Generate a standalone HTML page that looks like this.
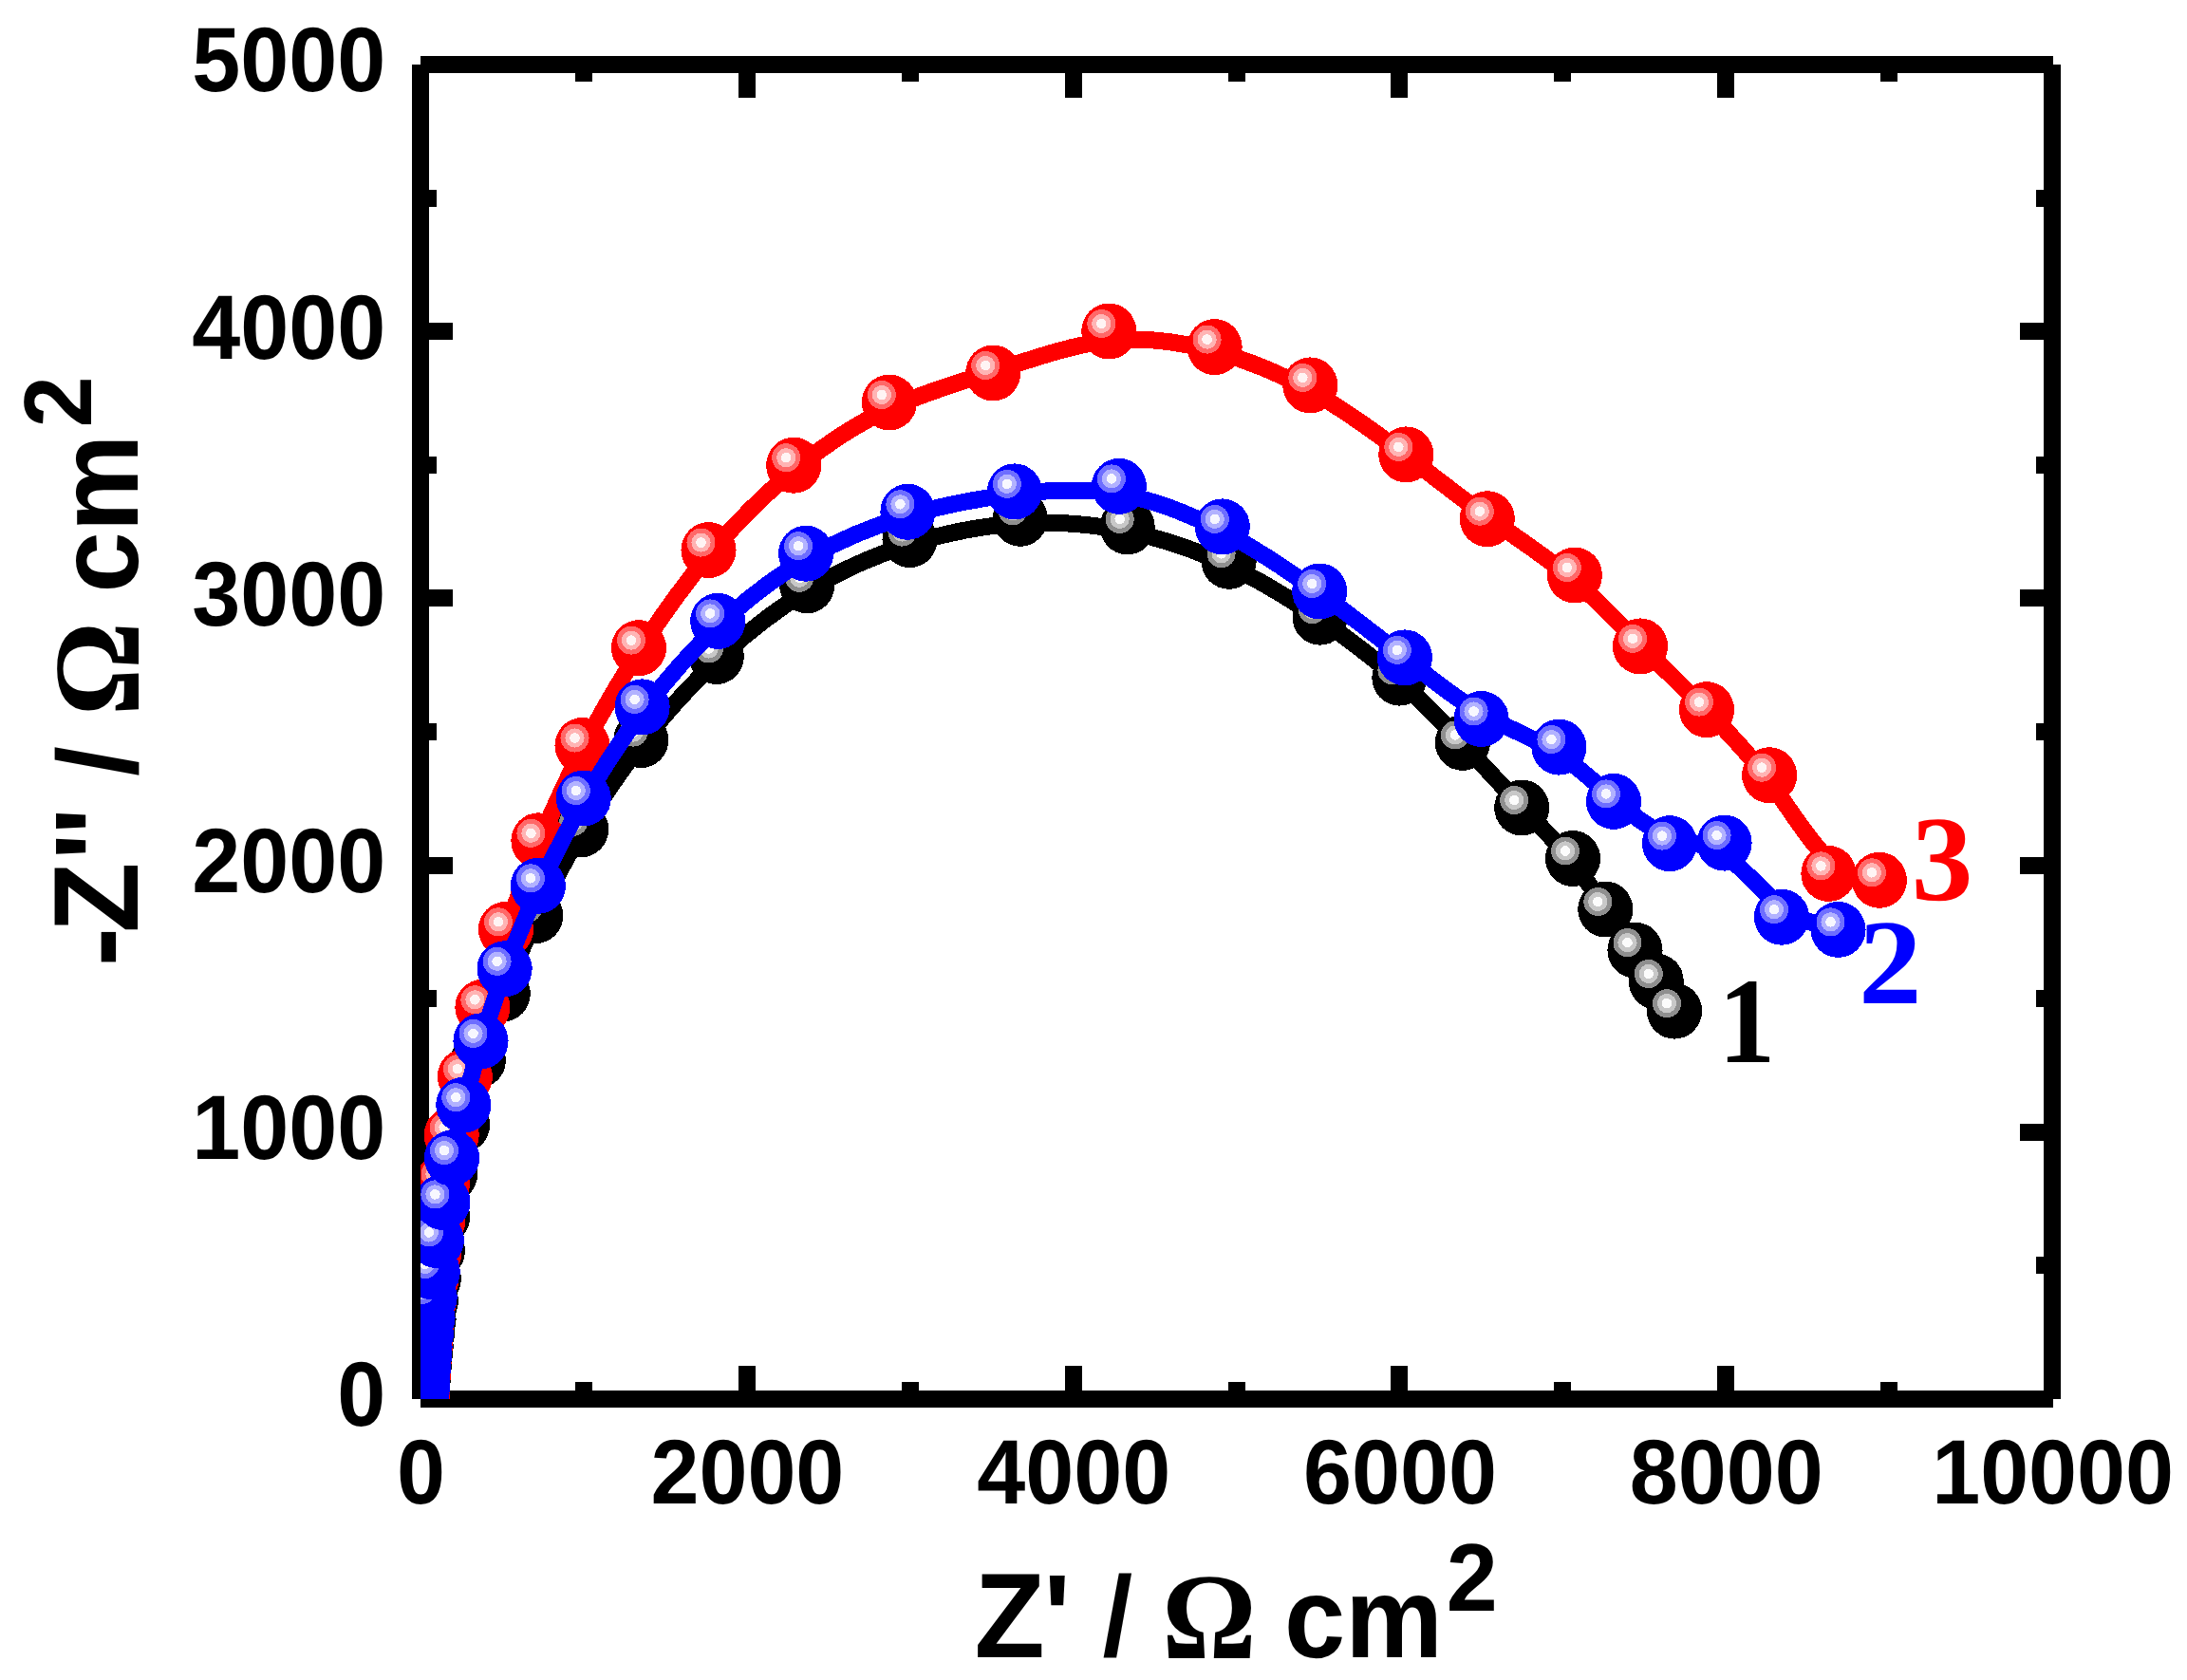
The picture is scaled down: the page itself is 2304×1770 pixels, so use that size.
<!DOCTYPE html>
<html lang="en"><head><meta charset="utf-8"><title>Nyquist plot</title>
<style>html,body{margin:0;padding:0;background:#fff;overflow:hidden;}svg{display:block;}text{font-family:"Liberation Sans",sans-serif;font-weight:bold;fill:#000;}.ser{font-family:"Liberation Serif",serif;font-weight:bold;}.om{font-family:"Liberation Serif",serif;font-weight:bold;}</style></head><body>
<svg width="2304" height="1770" viewBox="0 0 2304 1770" shape-rendering="crispEdges">
<rect width="2304" height="1770" fill="#fff"/>
<defs><clipPath id="pc"><rect x="443.0" y="68.0" width="1719.5" height="1406.0"/></clipPath></defs>
<g id="axes"><path d="M443.0 68.0H2162.5 M443.0 1474.0H2162.5 M443.0 68.0V1474.0 M2162.0 68.0V1474.0" stroke="#000" stroke-width="18" fill="none"/><path d="M614.9 68.0v18.0 M614.9 1474.0v-18.0 M786.8 68.0v35.0 M786.8 1474.0v-35.0 M958.7 68.0v18.0 M958.7 1474.0v-18.0 M1130.6 68.0v35.0 M1130.6 1474.0v-35.0 M1302.5 68.0v18.0 M1302.5 1474.0v-18.0 M1474.4 68.0v35.0 M1474.4 1474.0v-35.0 M1646.3 68.0v18.0 M1646.3 1474.0v-18.0 M1818.2 68.0v35.0 M1818.2 1474.0v-35.0 M1990.1 68.0v18.0 M1990.1 1474.0v-18.0 M443.0 1333.4h17.0 M2162.0 1333.4h-17.0 M443.0 1192.8h34.0 M2162.0 1192.8h-34.0 M443.0 1052.2h17.0 M2162.0 1052.2h-17.0 M443.0 911.6h34.0 M2162.0 911.6h-34.0 M443.0 771.0h17.0 M2162.0 771.0h-17.0 M443.0 630.4h34.0 M2162.0 630.4h-34.0 M443.0 489.8h17.0 M2162.0 489.8h-17.0 M443.0 349.2h34.0 M2162.0 349.2h-34.0 M443.0 208.6h17.0 M2162.0 208.6h-17.0" stroke="#000" stroke-width="18" fill="none"/></g>
<g id="data" clip-path="url(#pc)" shape-rendering="crispEdges">
<g id="s_k">
<path d="M444.81 1473.12 C444.81 1473.12 444.81 1473.12 444.81 1473.08 C444.81 1473.05 444.82 1472.98 444.82 1472.91 C444.82 1472.83 444.82 1472.75 444.82 1472.66 C444.83 1472.56 444.83 1472.46 444.83 1472.35 C444.83 1472.23 444.84 1472.11 444.84 1471.97 C444.84 1471.82 444.85 1471.67 444.85 1471.50 C444.86 1471.32 444.86 1471.13 444.87 1470.92 C444.88 1470.71 444.89 1470.48 444.90 1470.21 C444.90 1469.95 444.91 1469.66 444.93 1469.34 C444.94 1469.02 444.95 1468.67 444.97 1468.27 C444.98 1467.88 445.00 1467.44 445.02 1466.95 C445.05 1466.47 445.07 1465.93 445.10 1465.33 C445.13 1464.74 445.16 1464.08 445.20 1463.34 C445.24 1462.61 445.28 1461.79 445.33 1460.89 C445.38 1459.98 445.44 1458.99 445.50 1457.87 C445.57 1456.76 445.65 1455.53 445.74 1454.16 C445.83 1452.80 445.93 1451.29 446.05 1449.60 C446.17 1447.92 446.30 1446.06 446.46 1443.99 C446.62 1441.92 446.80 1439.64 447.01 1437.09 C447.22 1434.54 447.46 1431.73 447.74 1428.60 C448.02 1425.47 448.34 1422.01 448.71 1418.16 C449.08 1414.30 449.50 1410.05 450.00 1405.31 C450.49 1400.57 451.06 1395.34 451.72 1389.51 C452.38 1383.68 453.13 1377.25 454.01 1370.08 C454.88 1362.91 455.88 1355.00 457.05 1346.18 C458.22 1337.36 459.55 1327.63 461.10 1316.78 C462.65 1305.93 464.43 1293.97 466.63 1280.48 C468.83 1267.00 471.47 1252.00 474.95 1235.83 C478.43 1219.67 482.77 1202.33 487.73 1182.33 C492.70 1162.33 498.30 1139.67 505.42 1116.65 C512.53 1093.63 521.17 1070.27 531.23 1044.87 C541.30 1019.47 552.80 992.03 566.53 963.18 C580.27 934.33 596.23 904.07 614.73 873.23 C633.23 842.40 654.27 811.00 678.03 780.62 C701.80 750.23 728.30 720.87 757.45 693.73 C786.60 666.60 818.40 641.70 852.35 621.22 C886.30 600.73 922.40 584.67 959.83 572.92 C997.27 561.17 1036.03 553.73 1074.23 551.45 C1112.43 549.17 1150.07 552.03 1186.70 559.53 C1223.33 567.03 1258.97 579.17 1292.78 595.05 C1326.60 610.93 1358.60 630.57 1388.57 651.03 C1418.53 671.50 1446.47 692.80 1471.52 714.83 C1496.57 736.87 1518.73 759.63 1540.20 782.45 C1561.67 805.27 1582.43 828.13 1601.78 848.48 C1621.13 868.83 1639.07 886.67 1653.75 904.50 C1668.43 922.33 1679.87 940.17 1690.78 956.27 C1701.70 972.37 1712.10 986.73 1721.02 999.40 C1729.93 1012.07 1737.37 1023.03 1744.28 1033.70 C1751.20 1044.37 1757.60 1054.73 1760.80 1059.92 C1764.00 1065.10 1764.00 1065.10 1764.00 1065.10" stroke="#000000" stroke-width="18" fill="none" stroke-linejoin="round" stroke-linecap="round"/>
<ellipse cx="444.8" cy="1473.1" rx="29.05" ry="29.5" fill="#000000"/>
<circle cx="436.8" cy="1465.1" r="15" fill="#8f8f8f"/><circle cx="436.8" cy="1465.1" r="10.1" fill="#c8c8c8"/><circle cx="436.8" cy="1465.1" r="5.3" fill="#fcfcfc"/>
<ellipse cx="444.8" cy="1472.9" rx="29.05" ry="29.5" fill="#000000"/>
<circle cx="436.8" cy="1464.9" r="15" fill="#8f8f8f"/><circle cx="436.8" cy="1464.9" r="10.1" fill="#c8c8c8"/><circle cx="436.8" cy="1464.9" r="5.3" fill="#fcfcfc"/>
<ellipse cx="444.8" cy="1472.7" rx="29.05" ry="29.5" fill="#000000"/>
<circle cx="436.8" cy="1464.7" r="15" fill="#8f8f8f"/><circle cx="436.8" cy="1464.7" r="10.1" fill="#c8c8c8"/><circle cx="436.8" cy="1464.7" r="5.3" fill="#fcfcfc"/>
<ellipse cx="444.8" cy="1472.4" rx="29.05" ry="29.5" fill="#000000"/>
<circle cx="436.8" cy="1464.4" r="15" fill="#8f8f8f"/><circle cx="436.8" cy="1464.4" r="10.1" fill="#c8c8c8"/><circle cx="436.8" cy="1464.4" r="5.3" fill="#fcfcfc"/>
<ellipse cx="444.8" cy="1472.0" rx="29.05" ry="29.5" fill="#000000"/>
<circle cx="436.8" cy="1464.0" r="15" fill="#8f8f8f"/><circle cx="436.8" cy="1464.0" r="10.1" fill="#c8c8c8"/><circle cx="436.8" cy="1464.0" r="5.3" fill="#fcfcfc"/>
<ellipse cx="444.9" cy="1471.5" rx="29.05" ry="29.5" fill="#000000"/>
<circle cx="436.9" cy="1463.5" r="15" fill="#8f8f8f"/><circle cx="436.9" cy="1463.5" r="10.1" fill="#c8c8c8"/><circle cx="436.9" cy="1463.5" r="5.3" fill="#fcfcfc"/>
<ellipse cx="444.9" cy="1470.9" rx="29.05" ry="29.5" fill="#000000"/>
<circle cx="436.9" cy="1462.9" r="15" fill="#8f8f8f"/><circle cx="436.9" cy="1462.9" r="10.1" fill="#c8c8c8"/><circle cx="436.9" cy="1462.9" r="5.3" fill="#fcfcfc"/>
<ellipse cx="444.9" cy="1470.2" rx="29.05" ry="29.5" fill="#000000"/>
<circle cx="436.9" cy="1462.2" r="15" fill="#8f8f8f"/><circle cx="436.9" cy="1462.2" r="10.1" fill="#c8c8c8"/><circle cx="436.9" cy="1462.2" r="5.3" fill="#fcfcfc"/>
<ellipse cx="444.9" cy="1469.4" rx="29.05" ry="29.5" fill="#000000"/>
<circle cx="436.9" cy="1461.4" r="15" fill="#8f8f8f"/><circle cx="436.9" cy="1461.4" r="10.1" fill="#c8c8c8"/><circle cx="436.9" cy="1461.4" r="5.3" fill="#fcfcfc"/>
<ellipse cx="445.0" cy="1468.3" rx="29.05" ry="29.5" fill="#000000"/>
<circle cx="437.0" cy="1460.3" r="15" fill="#8f8f8f"/><circle cx="437.0" cy="1460.3" r="10.1" fill="#c8c8c8"/><circle cx="437.0" cy="1460.3" r="5.3" fill="#fcfcfc"/>
<ellipse cx="445.0" cy="1467.0" rx="29.05" ry="29.5" fill="#000000"/>
<circle cx="437.0" cy="1459.0" r="15" fill="#8f8f8f"/><circle cx="437.0" cy="1459.0" r="10.1" fill="#c8c8c8"/><circle cx="437.0" cy="1459.0" r="5.3" fill="#fcfcfc"/>
<ellipse cx="445.1" cy="1465.4" rx="29.05" ry="29.5" fill="#000000"/>
<circle cx="437.1" cy="1457.4" r="15" fill="#8f8f8f"/><circle cx="437.1" cy="1457.4" r="10.1" fill="#c8c8c8"/><circle cx="437.1" cy="1457.4" r="5.3" fill="#fcfcfc"/>
<ellipse cx="445.2" cy="1463.4" rx="29.05" ry="29.5" fill="#000000"/>
<circle cx="437.2" cy="1455.4" r="15" fill="#8f8f8f"/><circle cx="437.2" cy="1455.4" r="10.1" fill="#c8c8c8"/><circle cx="437.2" cy="1455.4" r="5.3" fill="#fcfcfc"/>
<ellipse cx="445.3" cy="1461.0" rx="29.05" ry="29.5" fill="#000000"/>
<circle cx="437.3" cy="1453.0" r="15" fill="#8f8f8f"/><circle cx="437.3" cy="1453.0" r="10.1" fill="#c8c8c8"/><circle cx="437.3" cy="1453.0" r="5.3" fill="#fcfcfc"/>
<ellipse cx="445.5" cy="1458.0" rx="29.05" ry="29.5" fill="#000000"/>
<circle cx="437.5" cy="1450.0" r="15" fill="#8f8f8f"/><circle cx="437.5" cy="1450.0" r="10.1" fill="#c8c8c8"/><circle cx="437.5" cy="1450.0" r="5.3" fill="#fcfcfc"/>
<ellipse cx="445.7" cy="1454.3" rx="29.05" ry="29.5" fill="#000000"/>
<circle cx="437.7" cy="1446.3" r="15" fill="#8f8f8f"/><circle cx="437.7" cy="1446.3" r="10.1" fill="#c8c8c8"/><circle cx="437.7" cy="1446.3" r="5.3" fill="#fcfcfc"/>
<ellipse cx="446.0" cy="1449.8" rx="29.05" ry="29.5" fill="#000000"/>
<circle cx="438.0" cy="1441.8" r="15" fill="#8f8f8f"/><circle cx="438.0" cy="1441.8" r="10.1" fill="#c8c8c8"/><circle cx="438.0" cy="1441.8" r="5.3" fill="#fcfcfc"/>
<ellipse cx="446.4" cy="1444.2" rx="29.05" ry="29.5" fill="#000000"/>
<circle cx="438.4" cy="1436.2" r="15" fill="#8f8f8f"/><circle cx="438.4" cy="1436.2" r="10.1" fill="#c8c8c8"/><circle cx="438.4" cy="1436.2" r="5.3" fill="#fcfcfc"/>
<ellipse cx="447.0" cy="1437.4" rx="29.05" ry="29.5" fill="#000000"/>
<circle cx="439.0" cy="1429.4" r="15" fill="#8f8f8f"/><circle cx="439.0" cy="1429.4" r="10.1" fill="#c8c8c8"/><circle cx="439.0" cy="1429.4" r="5.3" fill="#fcfcfc"/>
<ellipse cx="447.7" cy="1428.9" rx="29.05" ry="29.5" fill="#000000"/>
<circle cx="439.7" cy="1420.9" r="15" fill="#8f8f8f"/><circle cx="439.7" cy="1420.9" r="10.1" fill="#c8c8c8"/><circle cx="439.7" cy="1420.9" r="5.3" fill="#fcfcfc"/>
<ellipse cx="448.7" cy="1418.6" rx="29.05" ry="29.5" fill="#000000"/>
<circle cx="440.7" cy="1410.6" r="15" fill="#8f8f8f"/><circle cx="440.7" cy="1410.6" r="10.1" fill="#c8c8c8"/><circle cx="440.7" cy="1410.6" r="5.3" fill="#fcfcfc"/>
<ellipse cx="449.9" cy="1405.8" rx="29.05" ry="29.5" fill="#000000"/>
<circle cx="441.9" cy="1397.8" r="15" fill="#8f8f8f"/><circle cx="441.9" cy="1397.8" r="10.1" fill="#c8c8c8"/><circle cx="441.9" cy="1397.8" r="5.3" fill="#fcfcfc"/>
<ellipse cx="451.6" cy="1390.1" rx="29.05" ry="29.5" fill="#000000"/>
<circle cx="443.6" cy="1382.1" r="15" fill="#8f8f8f"/><circle cx="443.6" cy="1382.1" r="10.1" fill="#c8c8c8"/><circle cx="443.6" cy="1382.1" r="5.3" fill="#fcfcfc"/>
<ellipse cx="453.9" cy="1370.8" rx="29.05" ry="29.5" fill="#000000"/>
<circle cx="445.9" cy="1362.8" r="15" fill="#8f8f8f"/><circle cx="445.9" cy="1362.8" r="10.1" fill="#c8c8c8"/><circle cx="445.9" cy="1362.8" r="5.3" fill="#fcfcfc"/>
<ellipse cx="456.9" cy="1347.1" rx="29.05" ry="29.5" fill="#000000"/>
<circle cx="448.9" cy="1339.1" r="15" fill="#8f8f8f"/><circle cx="448.9" cy="1339.1" r="10.1" fill="#c8c8c8"/><circle cx="448.9" cy="1339.1" r="5.3" fill="#fcfcfc"/>
<ellipse cx="460.9" cy="1317.9" rx="29.05" ry="29.5" fill="#000000"/>
<circle cx="452.9" cy="1309.9" r="15" fill="#8f8f8f"/><circle cx="452.9" cy="1309.9" r="10.1" fill="#c8c8c8"/><circle cx="452.9" cy="1309.9" r="5.3" fill="#fcfcfc"/>
<ellipse cx="466.2" cy="1282.0" rx="29.05" ry="29.5" fill="#000000"/>
<circle cx="458.2" cy="1274.0" r="15" fill="#8f8f8f"/><circle cx="458.2" cy="1274.0" r="10.1" fill="#c8c8c8"/><circle cx="458.2" cy="1274.0" r="5.3" fill="#fcfcfc"/>
<ellipse cx="474.1" cy="1237.0" rx="29.05" ry="29.5" fill="#000000"/>
<circle cx="466.1" cy="1229.0" r="15" fill="#8f8f8f"/><circle cx="466.1" cy="1229.0" r="10.1" fill="#c8c8c8"/><circle cx="466.1" cy="1229.0" r="5.3" fill="#fcfcfc"/>
<ellipse cx="487.1" cy="1185.0" rx="29.05" ry="29.5" fill="#000000"/>
<circle cx="479.1" cy="1177.0" r="15" fill="#8f8f8f"/><circle cx="479.1" cy="1177.0" r="10.1" fill="#c8c8c8"/><circle cx="479.1" cy="1177.0" r="5.3" fill="#fcfcfc"/>
<ellipse cx="503.9" cy="1117.0" rx="29.05" ry="29.5" fill="#000000"/>
<circle cx="495.9" cy="1109.0" r="15" fill="#8f8f8f"/><circle cx="495.9" cy="1109.0" r="10.1" fill="#c8c8c8"/><circle cx="495.9" cy="1109.0" r="5.3" fill="#fcfcfc"/>
<ellipse cx="529.8" cy="1046.9" rx="29.05" ry="29.5" fill="#000000"/>
<circle cx="521.8" cy="1038.9" r="15" fill="#8f8f8f"/><circle cx="521.8" cy="1038.9" r="10.1" fill="#c8c8c8"/><circle cx="521.8" cy="1038.9" r="5.3" fill="#fcfcfc"/>
<ellipse cx="564.3" cy="964.6" rx="29.05" ry="29.5" fill="#000000"/>
<circle cx="556.3" cy="956.6" r="15" fill="#8f8f8f"/><circle cx="556.3" cy="956.6" r="10.1" fill="#c8c8c8"/><circle cx="556.3" cy="956.6" r="5.3" fill="#fcfcfc"/>
<ellipse cx="612.2" cy="873.8" rx="29.05" ry="29.5" fill="#000000"/>
<circle cx="604.2" cy="865.8" r="15" fill="#8f8f8f"/><circle cx="604.2" cy="865.8" r="10.1" fill="#c8c8c8"/><circle cx="604.2" cy="865.8" r="5.3" fill="#fcfcfc"/>
<ellipse cx="675.3" cy="779.6" rx="29.05" ry="29.5" fill="#000000"/>
<circle cx="667.3" cy="771.6" r="15" fill="#8f8f8f"/><circle cx="667.3" cy="771.6" r="10.1" fill="#c8c8c8"/><circle cx="667.3" cy="771.6" r="5.3" fill="#fcfcfc"/>
<ellipse cx="754.8" cy="691.5" rx="29.05" ry="29.5" fill="#000000"/>
<circle cx="746.8" cy="683.5" r="15" fill="#8f8f8f"/><circle cx="746.8" cy="683.5" r="10.1" fill="#c8c8c8"/><circle cx="746.8" cy="683.5" r="5.3" fill="#fcfcfc"/>
<ellipse cx="850.2" cy="616.8" rx="29.05" ry="29.5" fill="#000000"/>
<circle cx="842.2" cy="608.8" r="15" fill="#8f8f8f"/><circle cx="842.2" cy="608.8" r="10.1" fill="#c8c8c8"/><circle cx="842.2" cy="608.8" r="5.3" fill="#fcfcfc"/>
<ellipse cx="958.5" cy="568.6" rx="29.05" ry="29.5" fill="#000000"/>
<circle cx="950.5" cy="560.6" r="15" fill="#8f8f8f"/><circle cx="950.5" cy="560.6" r="10.1" fill="#c8c8c8"/><circle cx="950.5" cy="560.6" r="5.3" fill="#fcfcfc"/>
<ellipse cx="1074.8" cy="546.3" rx="29.05" ry="29.5" fill="#000000"/>
<circle cx="1066.8" cy="538.3" r="15" fill="#8f8f8f"/><circle cx="1066.8" cy="538.3" r="10.1" fill="#c8c8c8"/><circle cx="1066.8" cy="538.3" r="5.3" fill="#fcfcfc"/>
<ellipse cx="1187.7" cy="554.9" rx="29.05" ry="29.5" fill="#000000"/>
<circle cx="1179.7" cy="546.9" r="15" fill="#8f8f8f"/><circle cx="1179.7" cy="546.9" r="10.1" fill="#c8c8c8"/><circle cx="1179.7" cy="546.9" r="5.3" fill="#fcfcfc"/>
<ellipse cx="1294.6" cy="591.3" rx="29.05" ry="29.5" fill="#000000"/>
<circle cx="1286.6" cy="583.3" r="15" fill="#8f8f8f"/><circle cx="1286.6" cy="583.3" r="10.1" fill="#c8c8c8"/><circle cx="1286.6" cy="583.3" r="5.3" fill="#fcfcfc"/>
<ellipse cx="1390.6" cy="650.2" rx="29.05" ry="29.5" fill="#000000"/>
<circle cx="1382.6" cy="642.2" r="15" fill="#8f8f8f"/><circle cx="1382.6" cy="642.2" r="10.1" fill="#c8c8c8"/><circle cx="1382.6" cy="642.2" r="5.3" fill="#fcfcfc"/>
<ellipse cx="1474.4" cy="714.1" rx="29.05" ry="29.5" fill="#000000"/>
<circle cx="1466.4" cy="706.1" r="15" fill="#8f8f8f"/><circle cx="1466.4" cy="706.1" r="10.1" fill="#c8c8c8"/><circle cx="1466.4" cy="706.1" r="5.3" fill="#fcfcfc"/>
<ellipse cx="1540.9" cy="782.4" rx="29.05" ry="29.5" fill="#000000"/>
<circle cx="1532.9" cy="774.4" r="15" fill="#8f8f8f"/><circle cx="1532.9" cy="774.4" r="10.1" fill="#c8c8c8"/><circle cx="1532.9" cy="774.4" r="5.3" fill="#fcfcfc"/>
<ellipse cx="1603.2" cy="851.0" rx="29.05" ry="29.5" fill="#000000"/>
<circle cx="1595.2" cy="843.0" r="15" fill="#8f8f8f"/><circle cx="1595.2" cy="843.0" r="10.1" fill="#c8c8c8"/><circle cx="1595.2" cy="843.0" r="5.3" fill="#fcfcfc"/>
<ellipse cx="1657.0" cy="904.5" rx="29.05" ry="29.5" fill="#000000"/>
<circle cx="1649.0" cy="896.5" r="15" fill="#8f8f8f"/><circle cx="1649.0" cy="896.5" r="10.1" fill="#c8c8c8"/><circle cx="1649.0" cy="896.5" r="5.3" fill="#fcfcfc"/>
<ellipse cx="1691.3" cy="958.0" rx="29.05" ry="29.5" fill="#000000"/>
<circle cx="1683.3" cy="950.0" r="15" fill="#8f8f8f"/><circle cx="1683.3" cy="950.0" r="10.1" fill="#c8c8c8"/><circle cx="1683.3" cy="950.0" r="5.3" fill="#fcfcfc"/>
<ellipse cx="1722.5" cy="1001.1" rx="29.05" ry="29.5" fill="#000000"/>
<circle cx="1714.5" cy="993.1" r="15" fill="#8f8f8f"/><circle cx="1714.5" cy="993.1" r="10.1" fill="#c8c8c8"/><circle cx="1714.5" cy="993.1" r="5.3" fill="#fcfcfc"/>
<ellipse cx="1744.8" cy="1034.0" rx="29.05" ry="29.5" fill="#000000"/>
<circle cx="1736.8" cy="1026.0" r="15" fill="#8f8f8f"/><circle cx="1736.8" cy="1026.0" r="10.1" fill="#c8c8c8"/><circle cx="1736.8" cy="1026.0" r="5.3" fill="#fcfcfc"/>
<ellipse cx="1764.0" cy="1065.1" rx="29.05" ry="29.5" fill="#000000"/>
<circle cx="1756.0" cy="1057.1" r="15" fill="#8f8f8f"/><circle cx="1756.0" cy="1057.1" r="10.1" fill="#c8c8c8"/><circle cx="1756.0" cy="1057.1" r="5.3" fill="#fcfcfc"/>
</g>
<g id="s_r">
<path d="M444.82 1472.70 C444.82 1472.70 444.82 1472.70 444.82 1472.65 C444.82 1472.60 444.82 1472.51 444.82 1472.40 C444.83 1472.30 444.83 1472.18 444.83 1472.05 C444.83 1471.92 444.84 1471.78 444.84 1471.62 C444.84 1471.46 444.85 1471.29 444.85 1471.10 C444.86 1470.91 444.86 1470.69 444.87 1470.46 C444.88 1470.22 444.88 1469.97 444.89 1469.68 C444.90 1469.39 444.91 1469.08 444.92 1468.73 C444.93 1468.38 444.94 1468.00 444.96 1467.57 C444.97 1467.14 444.99 1466.68 445.01 1466.16 C445.03 1465.64 445.05 1465.06 445.07 1464.43 C445.10 1463.80 445.13 1463.10 445.16 1462.32 C445.19 1461.55 445.23 1460.70 445.27 1459.76 C445.31 1458.81 445.36 1457.77 445.42 1456.62 C445.48 1455.47 445.54 1454.20 445.62 1452.80 C445.69 1451.39 445.78 1449.85 445.87 1448.13 C445.97 1446.42 446.08 1444.53 446.21 1442.44 C446.34 1440.35 446.49 1438.05 446.66 1435.50 C446.83 1432.95 447.02 1430.14 447.25 1427.03 C447.47 1423.92 447.72 1420.50 448.02 1416.70 C448.31 1412.90 448.65 1408.72 449.03 1404.09 C449.42 1399.46 449.86 1394.36 450.37 1388.71 C450.88 1383.06 451.46 1376.84 452.13 1369.95 C452.80 1363.05 453.56 1355.47 454.45 1347.05 C455.33 1338.64 456.33 1329.39 457.49 1319.13 C458.65 1308.86 459.97 1297.58 461.50 1285.05 C463.03 1272.53 464.76 1258.77 467.17 1243.68 C469.57 1228.60 472.63 1212.20 476.53 1193.73 C480.43 1175.27 485.17 1154.73 490.62 1132.32 C496.07 1109.90 502.23 1085.60 509.42 1059.78 C516.60 1033.97 524.80 1006.63 534.63 977.38 C544.47 948.13 555.93 916.97 569.35 884.67 C582.77 852.37 598.13 818.93 615.73 785.07 C633.33 751.20 653.17 716.90 675.33 682.58 C697.50 648.27 722.00 613.93 749.20 581.87 C776.40 549.80 806.30 520.00 838.03 494.07 C869.77 468.13 903.33 446.07 938.33 429.87 C973.33 413.67 1009.77 403.33 1048.33 390.83 C1086.90 378.33 1127.60 363.67 1166.50 359.10 C1205.40 354.53 1242.50 360.07 1277.83 369.55 C1313.17 379.03 1346.73 392.47 1380.35 411.35 C1413.97 430.23 1447.63 454.57 1478.72 478.03 C1509.80 501.50 1538.30 524.10 1567.90 545.28 C1597.50 566.47 1628.20 586.23 1655.07 608.60 C1681.93 630.97 1704.97 655.93 1728.15 679.53 C1751.33 703.13 1774.67 725.37 1797.35 748.00 C1820.03 770.63 1842.07 793.67 1863.47 822.47 C1884.87 851.27 1905.63 885.83 1924.93 904.27 C1944.23 922.70 1962.07 925.00 1970.98 926.15 C1979.90 927.30 1979.90 927.30 1979.90 927.30" stroke="#ff0000" stroke-width="18" fill="none" stroke-linejoin="round" stroke-linecap="round"/>
<ellipse cx="444.8" cy="1472.7" rx="29.05" ry="29.5" fill="#ff0000"/>
<circle cx="436.8" cy="1464.7" r="15" fill="#ff6868"/><circle cx="436.8" cy="1464.7" r="10.1" fill="#ffb4b4"/><circle cx="436.8" cy="1464.7" r="5.3" fill="#fff4f4"/>
<ellipse cx="444.8" cy="1472.4" rx="29.05" ry="29.5" fill="#ff0000"/>
<circle cx="436.8" cy="1464.4" r="15" fill="#ff6868"/><circle cx="436.8" cy="1464.4" r="10.1" fill="#ffb4b4"/><circle cx="436.8" cy="1464.4" r="5.3" fill="#fff4f4"/>
<ellipse cx="444.8" cy="1472.1" rx="29.05" ry="29.5" fill="#ff0000"/>
<circle cx="436.8" cy="1464.1" r="15" fill="#ff6868"/><circle cx="436.8" cy="1464.1" r="10.1" fill="#ffb4b4"/><circle cx="436.8" cy="1464.1" r="5.3" fill="#fff4f4"/>
<ellipse cx="444.8" cy="1471.6" rx="29.05" ry="29.5" fill="#ff0000"/>
<circle cx="436.8" cy="1463.6" r="15" fill="#ff6868"/><circle cx="436.8" cy="1463.6" r="10.1" fill="#ffb4b4"/><circle cx="436.8" cy="1463.6" r="5.3" fill="#fff4f4"/>
<ellipse cx="444.9" cy="1471.1" rx="29.05" ry="29.5" fill="#ff0000"/>
<circle cx="436.9" cy="1463.1" r="15" fill="#ff6868"/><circle cx="436.9" cy="1463.1" r="10.1" fill="#ffb4b4"/><circle cx="436.9" cy="1463.1" r="5.3" fill="#fff4f4"/>
<ellipse cx="444.9" cy="1470.5" rx="29.05" ry="29.5" fill="#ff0000"/>
<circle cx="436.9" cy="1462.5" r="15" fill="#ff6868"/><circle cx="436.9" cy="1462.5" r="10.1" fill="#ffb4b4"/><circle cx="436.9" cy="1462.5" r="5.3" fill="#fff4f4"/>
<ellipse cx="444.9" cy="1469.7" rx="29.05" ry="29.5" fill="#ff0000"/>
<circle cx="436.9" cy="1461.7" r="15" fill="#ff6868"/><circle cx="436.9" cy="1461.7" r="10.1" fill="#ffb4b4"/><circle cx="436.9" cy="1461.7" r="5.3" fill="#fff4f4"/>
<ellipse cx="444.9" cy="1468.8" rx="29.05" ry="29.5" fill="#ff0000"/>
<circle cx="436.9" cy="1460.8" r="15" fill="#ff6868"/><circle cx="436.9" cy="1460.8" r="10.1" fill="#ffb4b4"/><circle cx="436.9" cy="1460.8" r="5.3" fill="#fff4f4"/>
<ellipse cx="445.0" cy="1467.6" rx="29.05" ry="29.5" fill="#ff0000"/>
<circle cx="437.0" cy="1459.6" r="15" fill="#ff6868"/><circle cx="437.0" cy="1459.6" r="10.1" fill="#ffb4b4"/><circle cx="437.0" cy="1459.6" r="5.3" fill="#fff4f4"/>
<ellipse cx="445.0" cy="1466.2" rx="29.05" ry="29.5" fill="#ff0000"/>
<circle cx="437.0" cy="1458.2" r="15" fill="#ff6868"/><circle cx="437.0" cy="1458.2" r="10.1" fill="#ffb4b4"/><circle cx="437.0" cy="1458.2" r="5.3" fill="#fff4f4"/>
<ellipse cx="445.1" cy="1464.5" rx="29.05" ry="29.5" fill="#ff0000"/>
<circle cx="437.1" cy="1456.5" r="15" fill="#ff6868"/><circle cx="437.1" cy="1456.5" r="10.1" fill="#ffb4b4"/><circle cx="437.1" cy="1456.5" r="5.3" fill="#fff4f4"/>
<ellipse cx="445.2" cy="1462.4" rx="29.05" ry="29.5" fill="#ff0000"/>
<circle cx="437.2" cy="1454.4" r="15" fill="#ff6868"/><circle cx="437.2" cy="1454.4" r="10.1" fill="#ffb4b4"/><circle cx="437.2" cy="1454.4" r="5.3" fill="#fff4f4"/>
<ellipse cx="445.3" cy="1459.8" rx="29.05" ry="29.5" fill="#ff0000"/>
<circle cx="437.3" cy="1451.8" r="15" fill="#ff6868"/><circle cx="437.3" cy="1451.8" r="10.1" fill="#ffb4b4"/><circle cx="437.3" cy="1451.8" r="5.3" fill="#fff4f4"/>
<ellipse cx="445.4" cy="1456.7" rx="29.05" ry="29.5" fill="#ff0000"/>
<circle cx="437.4" cy="1448.7" r="15" fill="#ff6868"/><circle cx="437.4" cy="1448.7" r="10.1" fill="#ffb4b4"/><circle cx="437.4" cy="1448.7" r="5.3" fill="#fff4f4"/>
<ellipse cx="445.6" cy="1452.9" rx="29.05" ry="29.5" fill="#ff0000"/>
<circle cx="437.6" cy="1444.9" r="15" fill="#ff6868"/><circle cx="437.6" cy="1444.9" r="10.1" fill="#ffb4b4"/><circle cx="437.6" cy="1444.9" r="5.3" fill="#fff4f4"/>
<ellipse cx="445.9" cy="1448.3" rx="29.05" ry="29.5" fill="#ff0000"/>
<circle cx="437.9" cy="1440.3" r="15" fill="#ff6868"/><circle cx="437.9" cy="1440.3" r="10.1" fill="#ffb4b4"/><circle cx="437.9" cy="1440.3" r="5.3" fill="#fff4f4"/>
<ellipse cx="446.2" cy="1442.7" rx="29.05" ry="29.5" fill="#ff0000"/>
<circle cx="438.2" cy="1434.7" r="15" fill="#ff6868"/><circle cx="438.2" cy="1434.7" r="10.1" fill="#ffb4b4"/><circle cx="438.2" cy="1434.7" r="5.3" fill="#fff4f4"/>
<ellipse cx="446.6" cy="1435.8" rx="29.05" ry="29.5" fill="#ff0000"/>
<circle cx="438.6" cy="1427.8" r="15" fill="#ff6868"/><circle cx="438.6" cy="1427.8" r="10.1" fill="#ffb4b4"/><circle cx="438.6" cy="1427.8" r="5.3" fill="#fff4f4"/>
<ellipse cx="447.2" cy="1427.3" rx="29.05" ry="29.5" fill="#ff0000"/>
<circle cx="439.2" cy="1419.3" r="15" fill="#ff6868"/><circle cx="439.2" cy="1419.3" r="10.1" fill="#ffb4b4"/><circle cx="439.2" cy="1419.3" r="5.3" fill="#fff4f4"/>
<ellipse cx="448.0" cy="1417.1" rx="29.05" ry="29.5" fill="#ff0000"/>
<circle cx="440.0" cy="1409.1" r="15" fill="#ff6868"/><circle cx="440.0" cy="1409.1" r="10.1" fill="#ffb4b4"/><circle cx="440.0" cy="1409.1" r="5.3" fill="#fff4f4"/>
<ellipse cx="449.0" cy="1404.5" rx="29.05" ry="29.5" fill="#ff0000"/>
<circle cx="441.0" cy="1396.5" r="15" fill="#ff6868"/><circle cx="441.0" cy="1396.5" r="10.1" fill="#ffb4b4"/><circle cx="441.0" cy="1396.5" r="5.3" fill="#fff4f4"/>
<ellipse cx="450.3" cy="1389.3" rx="29.05" ry="29.5" fill="#ff0000"/>
<circle cx="442.3" cy="1381.3" r="15" fill="#ff6868"/><circle cx="442.3" cy="1381.3" r="10.1" fill="#ffb4b4"/><circle cx="442.3" cy="1381.3" r="5.3" fill="#fff4f4"/>
<ellipse cx="452.0" cy="1370.6" rx="29.05" ry="29.5" fill="#ff0000"/>
<circle cx="444.0" cy="1362.6" r="15" fill="#ff6868"/><circle cx="444.0" cy="1362.6" r="10.1" fill="#ffb4b4"/><circle cx="444.0" cy="1362.6" r="5.3" fill="#fff4f4"/>
<ellipse cx="454.3" cy="1347.9" rx="29.05" ry="29.5" fill="#ff0000"/>
<circle cx="446.3" cy="1339.9" r="15" fill="#ff6868"/><circle cx="446.3" cy="1339.9" r="10.1" fill="#ffb4b4"/><circle cx="446.3" cy="1339.9" r="5.3" fill="#fff4f4"/>
<ellipse cx="457.3" cy="1320.1" rx="29.05" ry="29.5" fill="#ff0000"/>
<circle cx="449.3" cy="1312.1" r="15" fill="#ff6868"/><circle cx="449.3" cy="1312.1" r="10.1" fill="#ffb4b4"/><circle cx="449.3" cy="1312.1" r="5.3" fill="#fff4f4"/>
<ellipse cx="461.3" cy="1286.3" rx="29.05" ry="29.5" fill="#ff0000"/>
<circle cx="453.3" cy="1278.3" r="15" fill="#ff6868"/><circle cx="453.3" cy="1278.3" r="10.1" fill="#ffb4b4"/><circle cx="453.3" cy="1278.3" r="5.3" fill="#fff4f4"/>
<ellipse cx="466.5" cy="1245.0" rx="29.05" ry="29.5" fill="#ff0000"/>
<circle cx="458.5" cy="1237.0" r="15" fill="#ff6868"/><circle cx="458.5" cy="1237.0" r="10.1" fill="#ffb4b4"/><circle cx="458.5" cy="1237.0" r="5.3" fill="#fff4f4"/>
<ellipse cx="475.7" cy="1195.8" rx="29.05" ry="29.5" fill="#ff0000"/>
<circle cx="467.7" cy="1187.8" r="15" fill="#ff6868"/><circle cx="467.7" cy="1187.8" r="10.1" fill="#ffb4b4"/><circle cx="467.7" cy="1187.8" r="5.3" fill="#fff4f4"/>
<ellipse cx="489.9" cy="1134.2" rx="29.05" ry="29.5" fill="#ff0000"/>
<circle cx="481.9" cy="1126.2" r="15" fill="#ff6868"/><circle cx="481.9" cy="1126.2" r="10.1" fill="#ffb4b4"/><circle cx="481.9" cy="1126.2" r="5.3" fill="#fff4f4"/>
<ellipse cx="508.4" cy="1061.3" rx="29.05" ry="29.5" fill="#ff0000"/>
<circle cx="500.4" cy="1053.3" r="15" fill="#ff6868"/><circle cx="500.4" cy="1053.3" r="10.1" fill="#ffb4b4"/><circle cx="500.4" cy="1053.3" r="5.3" fill="#fff4f4"/>
<ellipse cx="533.0" cy="979.3" rx="29.05" ry="29.5" fill="#ff0000"/>
<circle cx="525.0" cy="971.3" r="15" fill="#ff6868"/><circle cx="525.0" cy="971.3" r="10.1" fill="#ffb4b4"/><circle cx="525.0" cy="971.3" r="5.3" fill="#fff4f4"/>
<ellipse cx="567.4" cy="885.8" rx="29.05" ry="29.5" fill="#ff0000"/>
<circle cx="559.4" cy="877.8" r="15" fill="#ff6868"/><circle cx="559.4" cy="877.8" r="10.1" fill="#ffb4b4"/><circle cx="559.4" cy="877.8" r="5.3" fill="#fff4f4"/>
<ellipse cx="613.5" cy="785.5" rx="29.05" ry="29.5" fill="#ff0000"/>
<circle cx="605.5" cy="777.5" r="15" fill="#ff6868"/><circle cx="605.5" cy="777.5" r="10.1" fill="#ffb4b4"/><circle cx="605.5" cy="777.5" r="5.3" fill="#fff4f4"/>
<ellipse cx="673.0" cy="682.6" rx="29.05" ry="29.5" fill="#ff0000"/>
<circle cx="665.0" cy="674.6" r="15" fill="#ff6868"/><circle cx="665.0" cy="674.6" r="10.1" fill="#ffb4b4"/><circle cx="665.0" cy="674.6" r="5.3" fill="#fff4f4"/>
<ellipse cx="746.5" cy="579.6" rx="29.05" ry="29.5" fill="#ff0000"/>
<circle cx="738.5" cy="571.6" r="15" fill="#ff6868"/><circle cx="738.5" cy="571.6" r="10.1" fill="#ffb4b4"/><circle cx="738.5" cy="571.6" r="5.3" fill="#fff4f4"/>
<ellipse cx="836.2" cy="490.2" rx="29.05" ry="29.5" fill="#ff0000"/>
<circle cx="828.2" cy="482.2" r="15" fill="#ff6868"/><circle cx="828.2" cy="482.2" r="10.1" fill="#ffb4b4"/><circle cx="828.2" cy="482.2" r="5.3" fill="#fff4f4"/>
<ellipse cx="936.9" cy="424.0" rx="29.05" ry="29.5" fill="#ff0000"/>
<circle cx="928.9" cy="416.0" r="15" fill="#ff6868"/><circle cx="928.9" cy="416.0" r="10.1" fill="#ffb4b4"/><circle cx="928.9" cy="416.0" r="5.3" fill="#fff4f4"/>
<ellipse cx="1046.2" cy="393.0" rx="29.05" ry="29.5" fill="#ff0000"/>
<circle cx="1038.2" cy="385.0" r="15" fill="#ff6868"/><circle cx="1038.2" cy="385.0" r="10.1" fill="#ffb4b4"/><circle cx="1038.2" cy="385.0" r="5.3" fill="#fff4f4"/>
<ellipse cx="1168.3" cy="349.0" rx="29.05" ry="29.5" fill="#ff0000"/>
<circle cx="1160.3" cy="341.0" r="15" fill="#ff6868"/><circle cx="1160.3" cy="341.0" r="10.1" fill="#ffb4b4"/><circle cx="1160.3" cy="341.0" r="5.3" fill="#fff4f4"/>
<ellipse cx="1279.6" cy="365.6" rx="29.05" ry="29.5" fill="#ff0000"/>
<circle cx="1271.6" cy="357.6" r="15" fill="#ff6868"/><circle cx="1271.6" cy="357.6" r="10.1" fill="#ffb4b4"/><circle cx="1271.6" cy="357.6" r="5.3" fill="#fff4f4"/>
<ellipse cx="1380.3" cy="405.9" rx="29.05" ry="29.5" fill="#ff0000"/>
<circle cx="1372.3" cy="397.9" r="15" fill="#ff6868"/><circle cx="1372.3" cy="397.9" r="10.1" fill="#ffb4b4"/><circle cx="1372.3" cy="397.9" r="5.3" fill="#fff4f4"/>
<ellipse cx="1481.3" cy="478.9" rx="29.05" ry="29.5" fill="#ff0000"/>
<circle cx="1473.3" cy="470.9" r="15" fill="#ff6868"/><circle cx="1473.3" cy="470.9" r="10.1" fill="#ffb4b4"/><circle cx="1473.3" cy="470.9" r="5.3" fill="#fff4f4"/>
<ellipse cx="1566.8" cy="546.7" rx="29.05" ry="29.5" fill="#ff0000"/>
<circle cx="1558.8" cy="538.7" r="15" fill="#ff6868"/><circle cx="1558.8" cy="538.7" r="10.1" fill="#ffb4b4"/><circle cx="1558.8" cy="538.7" r="5.3" fill="#fff4f4"/>
<ellipse cx="1658.9" cy="606.0" rx="29.05" ry="29.5" fill="#ff0000"/>
<circle cx="1650.9" cy="598.0" r="15" fill="#ff6868"/><circle cx="1650.9" cy="598.0" r="10.1" fill="#ffb4b4"/><circle cx="1650.9" cy="598.0" r="5.3" fill="#fff4f4"/>
<ellipse cx="1728.0" cy="680.9" rx="29.05" ry="29.5" fill="#ff0000"/>
<circle cx="1720.0" cy="672.9" r="15" fill="#ff6868"/><circle cx="1720.0" cy="672.9" r="10.1" fill="#ffb4b4"/><circle cx="1720.0" cy="672.9" r="5.3" fill="#fff4f4"/>
<ellipse cx="1798.0" cy="747.6" rx="29.05" ry="29.5" fill="#ff0000"/>
<circle cx="1790.0" cy="739.6" r="15" fill="#ff6868"/><circle cx="1790.0" cy="739.6" r="10.1" fill="#ffb4b4"/><circle cx="1790.0" cy="739.6" r="5.3" fill="#fff4f4"/>
<ellipse cx="1864.1" cy="816.7" rx="29.05" ry="29.5" fill="#ff0000"/>
<circle cx="1856.1" cy="808.7" r="15" fill="#ff6868"/><circle cx="1856.1" cy="808.7" r="10.1" fill="#ffb4b4"/><circle cx="1856.1" cy="808.7" r="5.3" fill="#fff4f4"/>
<ellipse cx="1926.4" cy="920.4" rx="29.05" ry="29.5" fill="#ff0000"/>
<circle cx="1918.4" cy="912.4" r="15" fill="#ff6868"/><circle cx="1918.4" cy="912.4" r="10.1" fill="#ffb4b4"/><circle cx="1918.4" cy="912.4" r="5.3" fill="#fff4f4"/>
<ellipse cx="1979.9" cy="927.3" rx="29.05" ry="29.5" fill="#ff0000"/>
<circle cx="1971.9" cy="919.3" r="15" fill="#ff6868"/><circle cx="1971.9" cy="919.3" r="10.1" fill="#ffb4b4"/><circle cx="1971.9" cy="919.3" r="5.3" fill="#fff4f4"/>
</g>
<g id="s_b">
<path d="M444.31 1473.49 C444.31 1473.49 444.31 1473.49 444.31 1473.47 C444.31 1473.45 444.31 1473.41 444.31 1473.36 C444.31 1473.31 444.31 1473.26 444.31 1473.20 C444.31 1473.14 444.31 1473.08 444.31 1473.00 C444.31 1472.93 444.32 1472.85 444.32 1472.75 C444.32 1472.66 444.32 1472.56 444.32 1472.44 C444.33 1472.33 444.33 1472.20 444.33 1472.05 C444.34 1471.91 444.34 1471.75 444.35 1471.57 C444.35 1471.38 444.36 1471.18 444.36 1470.96 C444.37 1470.73 444.38 1470.48 444.38 1470.20 C444.39 1469.91 444.40 1469.60 444.41 1469.25 C444.43 1468.89 444.44 1468.50 444.46 1468.06 C444.47 1467.62 444.49 1467.12 444.51 1466.57 C444.53 1466.02 444.56 1465.41 444.59 1464.71 C444.62 1464.02 444.65 1463.26 444.69 1462.39 C444.73 1461.53 444.78 1460.57 444.84 1459.49 C444.89 1458.41 444.95 1457.21 445.03 1455.86 C445.10 1454.52 445.19 1453.02 445.29 1451.33 C445.39 1449.65 445.51 1447.77 445.65 1445.66 C445.79 1443.56 445.95 1441.21 446.14 1438.58 C446.32 1435.95 446.54 1433.02 446.80 1429.72 C447.05 1426.43 447.35 1422.77 447.70 1418.66 C448.05 1414.54 448.45 1409.97 448.92 1404.82 C449.40 1399.67 449.95 1393.96 450.59 1387.53 C451.24 1381.09 451.98 1373.95 452.86 1365.91 C453.74 1357.87 454.75 1348.93 455.95 1338.88 C457.14 1328.83 458.52 1317.67 460.29 1305.40 C462.07 1293.13 464.23 1279.77 466.92 1265.37 C469.60 1250.97 472.80 1235.53 476.45 1218.50 C480.10 1201.47 484.20 1182.83 489.28 1162.30 C494.37 1141.77 500.43 1119.33 507.65 1095.43 C514.87 1071.53 523.23 1046.17 533.30 1018.90 C543.37 991.63 555.13 962.47 569.00 932.50 C582.87 902.53 598.83 871.77 617.12 840.37 C635.40 808.97 656.00 776.93 679.57 745.83 C703.13 714.73 729.67 684.57 758.42 657.62 C787.17 630.67 818.13 606.93 851.50 587.75 C884.87 568.57 920.63 553.93 957.27 543.05 C993.90 532.17 1031.40 525.03 1068.48 520.55 C1105.57 516.07 1142.23 514.23 1178.72 520.40 C1215.20 526.57 1251.50 540.73 1286.72 559.17 C1321.93 577.60 1356.07 600.30 1388.08 623.30 C1420.10 646.30 1450.00 669.60 1478.40 692.02 C1506.80 714.43 1533.70 735.97 1560.78 751.67 C1587.87 767.37 1615.13 777.23 1638.37 791.72 C1661.60 806.20 1680.80 825.30 1700.23 842.22 C1719.67 859.13 1739.33 873.87 1758.77 881.15 C1778.20 888.43 1797.40 888.27 1817.07 901.20 C1836.73 914.13 1856.87 940.17 1876.85 955.38 C1896.83 970.60 1916.67 975.00 1926.58 977.20 C1936.50 979.40 1936.50 979.40 1936.50 979.40" stroke="#0000ff" stroke-width="18" fill="none" stroke-linejoin="round" stroke-linecap="round"/>
<ellipse cx="444.3" cy="1473.5" rx="29.05" ry="29.5" fill="#0000ff"/>
<circle cx="436.3" cy="1465.5" r="15" fill="#6e6eff"/><circle cx="436.3" cy="1465.5" r="10.1" fill="#b2b2ff"/><circle cx="436.3" cy="1465.5" r="5.3" fill="#f7f7ff"/>
<ellipse cx="444.3" cy="1473.4" rx="29.05" ry="29.5" fill="#0000ff"/>
<circle cx="436.3" cy="1465.4" r="15" fill="#6e6eff"/><circle cx="436.3" cy="1465.4" r="10.1" fill="#b2b2ff"/><circle cx="436.3" cy="1465.4" r="5.3" fill="#f7f7ff"/>
<ellipse cx="444.3" cy="1473.2" rx="29.05" ry="29.5" fill="#0000ff"/>
<circle cx="436.3" cy="1465.2" r="15" fill="#6e6eff"/><circle cx="436.3" cy="1465.2" r="10.1" fill="#b2b2ff"/><circle cx="436.3" cy="1465.2" r="5.3" fill="#f7f7ff"/>
<ellipse cx="444.3" cy="1473.0" rx="29.05" ry="29.5" fill="#0000ff"/>
<circle cx="436.3" cy="1465.0" r="15" fill="#6e6eff"/><circle cx="436.3" cy="1465.0" r="10.1" fill="#b2b2ff"/><circle cx="436.3" cy="1465.0" r="5.3" fill="#f7f7ff"/>
<ellipse cx="444.3" cy="1472.8" rx="29.05" ry="29.5" fill="#0000ff"/>
<circle cx="436.3" cy="1464.8" r="15" fill="#6e6eff"/><circle cx="436.3" cy="1464.8" r="10.1" fill="#b2b2ff"/><circle cx="436.3" cy="1464.8" r="5.3" fill="#f7f7ff"/>
<ellipse cx="444.3" cy="1472.5" rx="29.05" ry="29.5" fill="#0000ff"/>
<circle cx="436.3" cy="1464.5" r="15" fill="#6e6eff"/><circle cx="436.3" cy="1464.5" r="10.1" fill="#b2b2ff"/><circle cx="436.3" cy="1464.5" r="5.3" fill="#f7f7ff"/>
<ellipse cx="444.3" cy="1472.1" rx="29.05" ry="29.5" fill="#0000ff"/>
<circle cx="436.3" cy="1464.1" r="15" fill="#6e6eff"/><circle cx="436.3" cy="1464.1" r="10.1" fill="#b2b2ff"/><circle cx="436.3" cy="1464.1" r="5.3" fill="#f7f7ff"/>
<ellipse cx="444.3" cy="1471.6" rx="29.05" ry="29.5" fill="#0000ff"/>
<circle cx="436.3" cy="1463.6" r="15" fill="#6e6eff"/><circle cx="436.3" cy="1463.6" r="10.1" fill="#b2b2ff"/><circle cx="436.3" cy="1463.6" r="5.3" fill="#f7f7ff"/>
<ellipse cx="444.4" cy="1471.0" rx="29.05" ry="29.5" fill="#0000ff"/>
<circle cx="436.4" cy="1463.0" r="15" fill="#6e6eff"/><circle cx="436.4" cy="1463.0" r="10.1" fill="#b2b2ff"/><circle cx="436.4" cy="1463.0" r="5.3" fill="#f7f7ff"/>
<ellipse cx="444.4" cy="1470.2" rx="29.05" ry="29.5" fill="#0000ff"/>
<circle cx="436.4" cy="1462.2" r="15" fill="#6e6eff"/><circle cx="436.4" cy="1462.2" r="10.1" fill="#b2b2ff"/><circle cx="436.4" cy="1462.2" r="5.3" fill="#f7f7ff"/>
<ellipse cx="444.4" cy="1469.3" rx="29.05" ry="29.5" fill="#0000ff"/>
<circle cx="436.4" cy="1461.3" r="15" fill="#6e6eff"/><circle cx="436.4" cy="1461.3" r="10.1" fill="#b2b2ff"/><circle cx="436.4" cy="1461.3" r="5.3" fill="#f7f7ff"/>
<ellipse cx="444.5" cy="1468.1" rx="29.05" ry="29.5" fill="#0000ff"/>
<circle cx="436.5" cy="1460.1" r="15" fill="#6e6eff"/><circle cx="436.5" cy="1460.1" r="10.1" fill="#b2b2ff"/><circle cx="436.5" cy="1460.1" r="5.3" fill="#f7f7ff"/>
<ellipse cx="444.5" cy="1466.6" rx="29.05" ry="29.5" fill="#0000ff"/>
<circle cx="436.5" cy="1458.6" r="15" fill="#6e6eff"/><circle cx="436.5" cy="1458.6" r="10.1" fill="#b2b2ff"/><circle cx="436.5" cy="1458.6" r="5.3" fill="#f7f7ff"/>
<ellipse cx="444.6" cy="1464.8" rx="29.05" ry="29.5" fill="#0000ff"/>
<circle cx="436.6" cy="1456.8" r="15" fill="#6e6eff"/><circle cx="436.6" cy="1456.8" r="10.1" fill="#b2b2ff"/><circle cx="436.6" cy="1456.8" r="5.3" fill="#f7f7ff"/>
<ellipse cx="444.7" cy="1462.5" rx="29.05" ry="29.5" fill="#0000ff"/>
<circle cx="436.7" cy="1454.5" r="15" fill="#6e6eff"/><circle cx="436.7" cy="1454.5" r="10.1" fill="#b2b2ff"/><circle cx="436.7" cy="1454.5" r="5.3" fill="#f7f7ff"/>
<ellipse cx="444.8" cy="1459.6" rx="29.05" ry="29.5" fill="#0000ff"/>
<circle cx="436.8" cy="1451.6" r="15" fill="#6e6eff"/><circle cx="436.8" cy="1451.6" r="10.1" fill="#b2b2ff"/><circle cx="436.8" cy="1451.6" r="5.3" fill="#f7f7ff"/>
<ellipse cx="445.0" cy="1456.0" rx="29.05" ry="29.5" fill="#0000ff"/>
<circle cx="437.0" cy="1448.0" r="15" fill="#6e6eff"/><circle cx="437.0" cy="1448.0" r="10.1" fill="#b2b2ff"/><circle cx="437.0" cy="1448.0" r="5.3" fill="#f7f7ff"/>
<ellipse cx="445.3" cy="1451.5" rx="29.05" ry="29.5" fill="#0000ff"/>
<circle cx="437.3" cy="1443.5" r="15" fill="#6e6eff"/><circle cx="437.3" cy="1443.5" r="10.1" fill="#b2b2ff"/><circle cx="437.3" cy="1443.5" r="5.3" fill="#f7f7ff"/>
<ellipse cx="445.6" cy="1445.9" rx="29.05" ry="29.5" fill="#0000ff"/>
<circle cx="437.6" cy="1437.9" r="15" fill="#6e6eff"/><circle cx="437.6" cy="1437.9" r="10.1" fill="#b2b2ff"/><circle cx="437.6" cy="1437.9" r="5.3" fill="#f7f7ff"/>
<ellipse cx="446.1" cy="1438.9" rx="29.05" ry="29.5" fill="#0000ff"/>
<circle cx="438.1" cy="1430.9" r="15" fill="#6e6eff"/><circle cx="438.1" cy="1430.9" r="10.1" fill="#b2b2ff"/><circle cx="438.1" cy="1430.9" r="5.3" fill="#f7f7ff"/>
<ellipse cx="446.8" cy="1430.1" rx="29.05" ry="29.5" fill="#0000ff"/>
<circle cx="438.8" cy="1422.1" r="15" fill="#6e6eff"/><circle cx="438.8" cy="1422.1" r="10.1" fill="#b2b2ff"/><circle cx="438.8" cy="1422.1" r="5.3" fill="#f7f7ff"/>
<ellipse cx="447.6" cy="1419.1" rx="29.05" ry="29.5" fill="#0000ff"/>
<circle cx="439.6" cy="1411.1" r="15" fill="#6e6eff"/><circle cx="439.6" cy="1411.1" r="10.1" fill="#b2b2ff"/><circle cx="439.6" cy="1411.1" r="5.3" fill="#f7f7ff"/>
<ellipse cx="448.9" cy="1405.4" rx="29.05" ry="29.5" fill="#0000ff"/>
<circle cx="440.9" cy="1397.4" r="15" fill="#6e6eff"/><circle cx="440.9" cy="1397.4" r="10.1" fill="#b2b2ff"/><circle cx="440.9" cy="1397.4" r="5.3" fill="#f7f7ff"/>
<ellipse cx="450.5" cy="1388.2" rx="29.05" ry="29.5" fill="#0000ff"/>
<circle cx="442.5" cy="1380.2" r="15" fill="#6e6eff"/><circle cx="442.5" cy="1380.2" r="10.1" fill="#b2b2ff"/><circle cx="442.5" cy="1380.2" r="5.3" fill="#f7f7ff"/>
<ellipse cx="452.7" cy="1366.8" rx="29.05" ry="29.5" fill="#0000ff"/>
<circle cx="444.7" cy="1358.8" r="15" fill="#6e6eff"/><circle cx="444.7" cy="1358.8" r="10.1" fill="#b2b2ff"/><circle cx="444.7" cy="1358.8" r="5.3" fill="#f7f7ff"/>
<ellipse cx="455.8" cy="1340.0" rx="29.05" ry="29.5" fill="#0000ff"/>
<circle cx="447.8" cy="1332.0" r="15" fill="#6e6eff"/><circle cx="447.8" cy="1332.0" r="10.1" fill="#b2b2ff"/><circle cx="447.8" cy="1332.0" r="5.3" fill="#f7f7ff"/>
<ellipse cx="459.9" cy="1306.5" rx="29.05" ry="29.5" fill="#0000ff"/>
<circle cx="451.9" cy="1298.5" r="15" fill="#6e6eff"/><circle cx="451.9" cy="1298.5" r="10.1" fill="#b2b2ff"/><circle cx="451.9" cy="1298.5" r="5.3" fill="#f7f7ff"/>
<ellipse cx="466.4" cy="1266.4" rx="29.05" ry="29.5" fill="#0000ff"/>
<circle cx="458.4" cy="1258.4" r="15" fill="#6e6eff"/><circle cx="458.4" cy="1258.4" r="10.1" fill="#b2b2ff"/><circle cx="458.4" cy="1258.4" r="5.3" fill="#f7f7ff"/>
<ellipse cx="476.0" cy="1220.1" rx="29.05" ry="29.5" fill="#0000ff"/>
<circle cx="468.0" cy="1212.1" r="15" fill="#6e6eff"/><circle cx="468.0" cy="1212.1" r="10.1" fill="#b2b2ff"/><circle cx="468.0" cy="1212.1" r="5.3" fill="#f7f7ff"/>
<ellipse cx="488.3" cy="1164.2" rx="29.05" ry="29.5" fill="#0000ff"/>
<circle cx="480.3" cy="1156.2" r="15" fill="#6e6eff"/><circle cx="480.3" cy="1156.2" r="10.1" fill="#b2b2ff"/><circle cx="480.3" cy="1156.2" r="5.3" fill="#f7f7ff"/>
<ellipse cx="506.5" cy="1096.9" rx="29.05" ry="29.5" fill="#0000ff"/>
<circle cx="498.5" cy="1088.9" r="15" fill="#6e6eff"/><circle cx="498.5" cy="1088.9" r="10.1" fill="#b2b2ff"/><circle cx="498.5" cy="1088.9" r="5.3" fill="#f7f7ff"/>
<ellipse cx="531.6" cy="1020.8" rx="29.05" ry="29.5" fill="#0000ff"/>
<circle cx="523.6" cy="1012.8" r="15" fill="#6e6eff"/><circle cx="523.6" cy="1012.8" r="10.1" fill="#b2b2ff"/><circle cx="523.6" cy="1012.8" r="5.3" fill="#f7f7ff"/>
<ellipse cx="566.9" cy="933.3" rx="29.05" ry="29.5" fill="#0000ff"/>
<circle cx="558.9" cy="925.3" r="15" fill="#6e6eff"/><circle cx="558.9" cy="925.3" r="10.1" fill="#b2b2ff"/><circle cx="558.9" cy="925.3" r="5.3" fill="#f7f7ff"/>
<ellipse cx="614.8" cy="841.0" rx="29.05" ry="29.5" fill="#0000ff"/>
<circle cx="606.8" cy="833.0" r="15" fill="#6e6eff"/><circle cx="606.8" cy="833.0" r="10.1" fill="#b2b2ff"/><circle cx="606.8" cy="833.0" r="5.3" fill="#f7f7ff"/>
<ellipse cx="676.6" cy="744.9" rx="29.05" ry="29.5" fill="#0000ff"/>
<circle cx="668.6" cy="736.9" r="15" fill="#6e6eff"/><circle cx="668.6" cy="736.9" r="10.1" fill="#b2b2ff"/><circle cx="668.6" cy="736.9" r="5.3" fill="#f7f7ff"/>
<ellipse cx="756.2" cy="654.4" rx="29.05" ry="29.5" fill="#0000ff"/>
<circle cx="748.2" cy="646.4" r="15" fill="#6e6eff"/><circle cx="748.2" cy="646.4" r="10.1" fill="#b2b2ff"/><circle cx="748.2" cy="646.4" r="5.3" fill="#f7f7ff"/>
<ellipse cx="849.1" cy="583.2" rx="29.05" ry="29.5" fill="#0000ff"/>
<circle cx="841.1" cy="575.2" r="15" fill="#6e6eff"/><circle cx="841.1" cy="575.2" r="10.1" fill="#b2b2ff"/><circle cx="841.1" cy="575.2" r="5.3" fill="#f7f7ff"/>
<ellipse cx="956.4" cy="539.3" rx="29.05" ry="29.5" fill="#0000ff"/>
<circle cx="948.4" cy="531.3" r="15" fill="#6e6eff"/><circle cx="948.4" cy="531.3" r="10.1" fill="#b2b2ff"/><circle cx="948.4" cy="531.3" r="5.3" fill="#f7f7ff"/>
<ellipse cx="1068.9" cy="517.9" rx="29.05" ry="29.5" fill="#0000ff"/>
<circle cx="1060.9" cy="509.9" r="15" fill="#6e6eff"/><circle cx="1060.9" cy="509.9" r="10.1" fill="#b2b2ff"/><circle cx="1060.9" cy="509.9" r="5.3" fill="#f7f7ff"/>
<ellipse cx="1178.9" cy="512.4" rx="29.05" ry="29.5" fill="#0000ff"/>
<circle cx="1170.9" cy="504.4" r="15" fill="#6e6eff"/><circle cx="1170.9" cy="504.4" r="10.1" fill="#b2b2ff"/><circle cx="1170.9" cy="504.4" r="5.3" fill="#f7f7ff"/>
<ellipse cx="1287.8" cy="554.9" rx="29.05" ry="29.5" fill="#0000ff"/>
<circle cx="1279.8" cy="546.9" r="15" fill="#6e6eff"/><circle cx="1279.8" cy="546.9" r="10.1" fill="#b2b2ff"/><circle cx="1279.8" cy="546.9" r="5.3" fill="#f7f7ff"/>
<ellipse cx="1390.2" cy="623.0" rx="29.05" ry="29.5" fill="#0000ff"/>
<circle cx="1382.2" cy="615.0" r="15" fill="#6e6eff"/><circle cx="1382.2" cy="615.0" r="10.1" fill="#b2b2ff"/><circle cx="1382.2" cy="615.0" r="5.3" fill="#f7f7ff"/>
<ellipse cx="1479.9" cy="692.9" rx="29.05" ry="29.5" fill="#0000ff"/>
<circle cx="1471.9" cy="684.9" r="15" fill="#6e6eff"/><circle cx="1471.9" cy="684.9" r="10.1" fill="#b2b2ff"/><circle cx="1471.9" cy="684.9" r="5.3" fill="#f7f7ff"/>
<ellipse cx="1560.6" cy="757.5" rx="29.05" ry="29.5" fill="#0000ff"/>
<circle cx="1552.6" cy="749.5" r="15" fill="#6e6eff"/><circle cx="1552.6" cy="749.5" r="10.1" fill="#b2b2ff"/><circle cx="1552.6" cy="749.5" r="5.3" fill="#f7f7ff"/>
<ellipse cx="1642.4" cy="787.1" rx="29.05" ry="29.5" fill="#0000ff"/>
<circle cx="1634.4" cy="779.1" r="15" fill="#6e6eff"/><circle cx="1634.4" cy="779.1" r="10.1" fill="#b2b2ff"/><circle cx="1634.4" cy="779.1" r="5.3" fill="#f7f7ff"/>
<ellipse cx="1700.0" cy="844.4" rx="29.05" ry="29.5" fill="#0000ff"/>
<circle cx="1692.0" cy="836.4" r="15" fill="#6e6eff"/><circle cx="1692.0" cy="836.4" r="10.1" fill="#b2b2ff"/><circle cx="1692.0" cy="836.4" r="5.3" fill="#f7f7ff"/>
<ellipse cx="1759.0" cy="888.6" rx="29.05" ry="29.5" fill="#0000ff"/>
<circle cx="1751.0" cy="880.6" r="15" fill="#6e6eff"/><circle cx="1751.0" cy="880.6" r="10.1" fill="#b2b2ff"/><circle cx="1751.0" cy="880.6" r="5.3" fill="#f7f7ff"/>
<ellipse cx="1816.6" cy="888.1" rx="29.05" ry="29.5" fill="#0000ff"/>
<circle cx="1808.6" cy="880.1" r="15" fill="#6e6eff"/><circle cx="1808.6" cy="880.1" r="10.1" fill="#b2b2ff"/><circle cx="1808.6" cy="880.1" r="5.3" fill="#f7f7ff"/>
<ellipse cx="1877.0" cy="966.2" rx="29.05" ry="29.5" fill="#0000ff"/>
<circle cx="1869.0" cy="958.2" r="15" fill="#6e6eff"/><circle cx="1869.0" cy="958.2" r="10.1" fill="#b2b2ff"/><circle cx="1869.0" cy="958.2" r="5.3" fill="#f7f7ff"/>
<ellipse cx="1936.5" cy="979.4" rx="29.05" ry="29.5" fill="#0000ff"/>
<circle cx="1928.5" cy="971.4" r="15" fill="#6e6eff"/><circle cx="1928.5" cy="971.4" r="10.1" fill="#b2b2ff"/><circle cx="1928.5" cy="971.4" r="5.3" fill="#f7f7ff"/>
</g>
</g>
<g id="labels" shape-rendering="auto" text-rendering="geometricPrecision"><text transform="translate(406.17 1502.30) scale(1 1.05)" font-size="91.67" text-anchor="end">0</text><text transform="translate(406.17 1221.10) scale(1 1.05)" font-size="91.67" text-anchor="end">1000</text><text transform="translate(406.17 939.90) scale(1 1.05)" font-size="91.67" text-anchor="end">2000</text><text transform="translate(406.17 658.70) scale(1 1.05)" font-size="91.67" text-anchor="end">3000</text><text transform="translate(406.17 377.50) scale(1 1.05)" font-size="91.67" text-anchor="end">4000</text><text transform="translate(406.17 96.30) scale(1 1.05)" font-size="91.67" text-anchor="end">5000</text><text transform="translate(443.60 1584.30) scale(1 1.05)" font-size="91.67" text-anchor="middle">0</text><text transform="translate(787.40 1584.30) scale(1 1.05)" font-size="91.67" text-anchor="middle">2000</text><text transform="translate(1131.20 1584.30) scale(1 1.05)" font-size="91.67" text-anchor="middle">4000</text><text transform="translate(1475.00 1584.30) scale(1 1.05)" font-size="91.67" text-anchor="middle">6000</text><text transform="translate(1818.80 1584.30) scale(1 1.05)" font-size="91.67" text-anchor="middle">8000</text><text transform="translate(2162.60 1584.30) scale(1 1.05)" font-size="91.67" text-anchor="middle">10000</text><text transform="translate(0.00 1746.00) scale(1 1.046)"><tspan x="1026.38" y="-0.00" font-size="121.5">Z</tspan><tspan x="1099.44" y="-0.00" font-size="119.5">'</tspan> <tspan x="1161.48" y="-1.53" font-size="114">/</tspan> <tspan x="1224.27" y="0.76" font-size="124" class="om">Ω</tspan> <tspan x="1353.08" y="-0.00" font-size="115.5">cm</tspan><tspan x="1523.63" y="-47.04" font-size="97">2</tspan></text><text transform="translate(145.40 0) rotate(-90) scale(1 1.046)"><tspan x="-1018.25" y="2.68" font-size="124">-</tspan><tspan x="-982.72" y="-0.00" font-size="121.5">Z</tspan><tspan x="-905.96" y="-0.00" font-size="119.5">'</tspan><tspan x="-879.26" y="-0.00" font-size="119.5">'</tspan> <tspan x="-817.72" y="-1.53" font-size="114">/</tspan> <tspan x="-754.33" y="0.48" font-size="124" class="om">Ω</tspan> <tspan x="-624.52" y="-0.00" font-size="115.5">cm</tspan><tspan x="-450.17" y="-47.42" font-size="97">2</tspan></text><text transform="translate(1810.29 1118.80) scale(0.96 1.03)" font-size="125" class="ser">1</text><text transform="translate(1958.00 1056.90) scale(1.066 1.025)" font-size="125" class="ser" fill="#0000ff" style="fill:#0000ff">2</text><text transform="translate(2013.74 947.65) scale(1.035 1.024)" font-size="125" class="ser" fill="#ff0000" style="fill:#ff0000">3</text></g>
</svg></body></html>
